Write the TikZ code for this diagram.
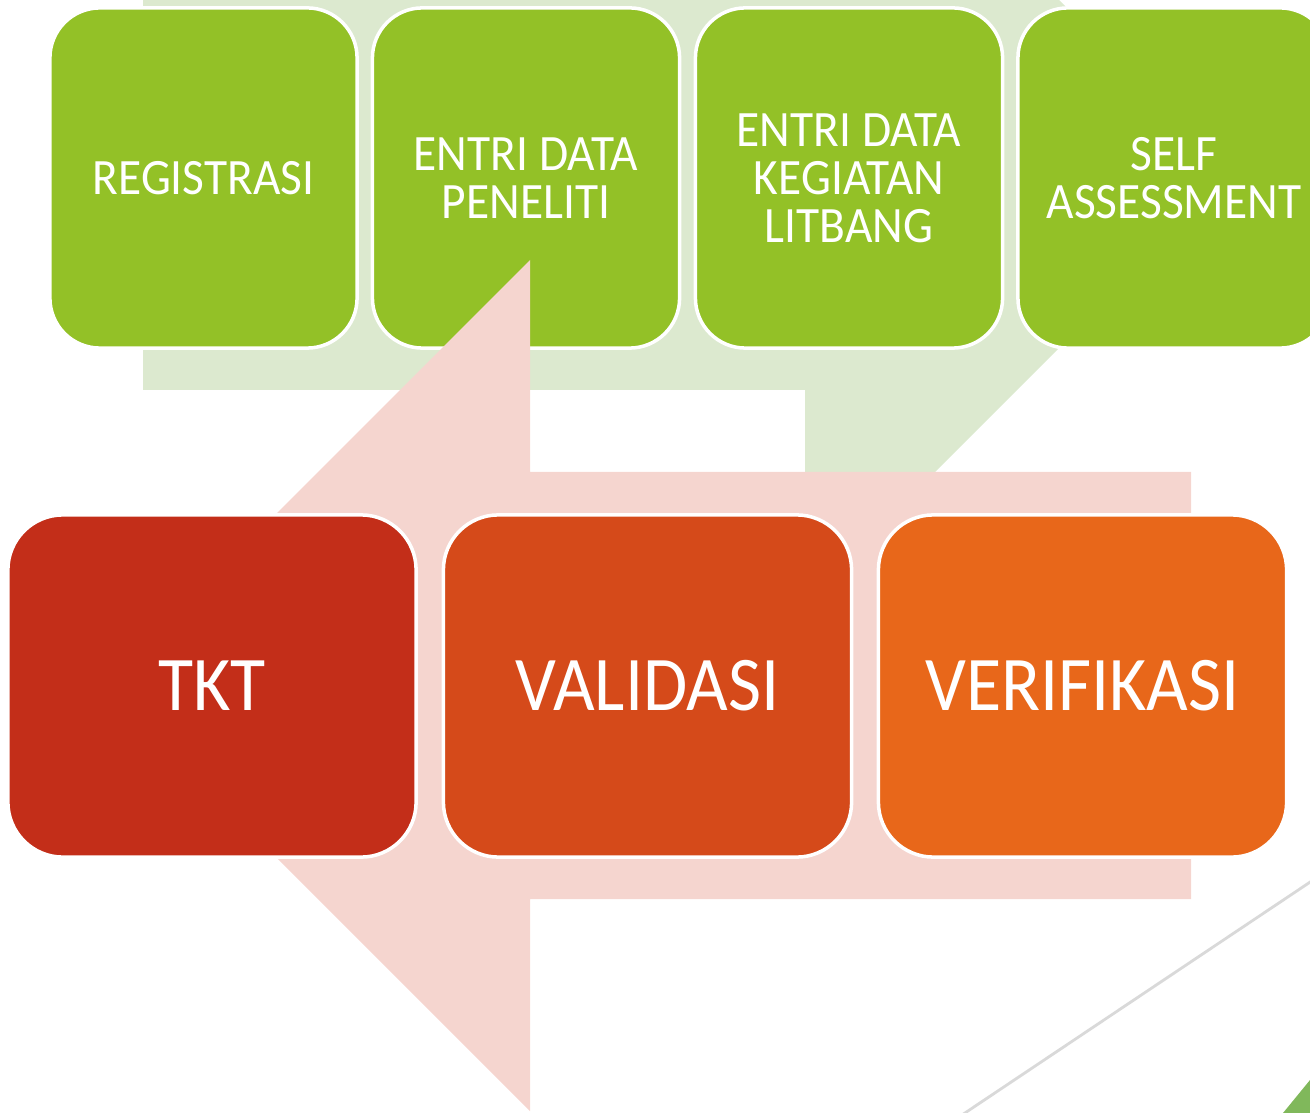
\documentclass[tikz,border=0pt]{standalone}
\usepackage{fontspec}
\setmainfont{Carlito}[FakeStretch=0.93]
\definecolor{gfill}{HTML}{93C127}
\definecolor{gband}{HTML}{DCE9CF}
\definecolor{pband}{HTML}{F5D5CF}
\definecolor{rA}{HTML}{C32E19}
\definecolor{rB}{HTML}{D54A1A}
\definecolor{rC}{HTML}{E8671A}
\definecolor{lgray}{HTML}{D9D9D9}
\definecolor{tri}{HTML}{80B85B}
\tikzset{
  topbox/.style={draw=white, line width=1pt, fill=gfill, rounded corners=0.5cm,
    minimum width=3.07cm, minimum height=3.4cm, text=white, align=center,
    font=\fontsize{14.5}{13.6}\selectfont, inner sep=0pt},
  botbox/.style={draw=white, line width=1pt, rounded corners=0.55cm,
    minimum width=4.08cm, minimum height=3.42cm, text=white, align=center,
    font=\fontsize{22}{22}\selectfont, inner sep=0pt}
}
\begin{document}
\begin{tikzpicture}[x=0.01cm,y=-0.01cm]
\useasboundingbox (0,0) rectangle (1310,1113);
\clip (0,0) rectangle (1310,1113);
% green background arrow
\fill[gband] (143,-42) -- (805,-42) -- (805,-254) -- (1233,174) -- (805,602) -- (805,390) -- (143,390) -- cycle;
% top row
\node[topbox] (reg) at (203.5,178) {REGISTRASI};
\node[topbox] (pen) at (526,178) {ENTRI DATA\\PENELITI};
\node[topbox] (keg) at (849,178) {ENTRI DATA\\KEGIATAN\\LITBANG};
\node[topbox, minimum width=3.12cm] (self) at (1174,178) {SELF\\ASSESSMENT};
% pink background arrow
\fill[pband] (1191,472) -- (530,472) -- (530,260) -- (104.5,685.5) -- (530,1111) -- (530,899) -- (1191,899) -- cycle;
% bottom row
\node[botbox, fill=rA] (tkt) at (212,686) {TKT};
\node[botbox, fill=rB] (val) at (647.5,686) {VALIDASI};
\node[botbox, fill=rC] (ver) at (1082.5,686) {VERIFIKASI};
% decorations bottom right
\draw[lgray, line width=0.8pt] (1370,842) -- (935,1133);
\fill[tri] (1283,1113) -- (1310,1080) -- (1310,1113) -- cycle;
\end{tikzpicture}
\end{document}
